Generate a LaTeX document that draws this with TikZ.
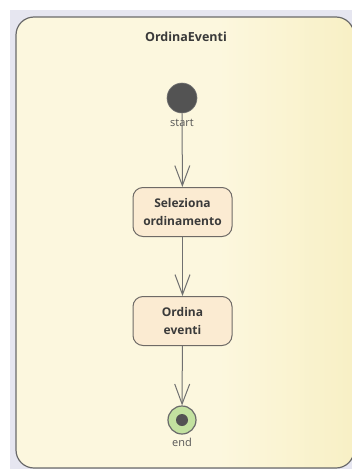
\documentclass[tikz,border=0pt]{standalone}
\usepackage{fontspec}
\setmainfont{Open Sans}
\usetikzlibrary{arrows.meta}

\definecolor{pagebg}{HTML}{E6E6F0}
\definecolor{frameL}{HTML}{FCF7DE}
\definecolor{frameR}{HTML}{F3E7A6}
\definecolor{frameline}{HTML}{6A6A6A}
\definecolor{actfill}{HTML}{FBEBD2}
\definecolor{actline}{HTML}{6E6A66}
\definecolor{flowline}{HTML}{707070}
\definecolor{dotfill}{HTML}{535353}
\definecolor{endring}{HTML}{C3E2A0}
\definecolor{txt}{HTML}{3A3A3A}
\definecolor{lbl}{HTML}{555555}

\pgfdeclarehorizontalshading{framefill}{100bp}{color(0bp)=(frameL); color(55bp)=(frameL); color(100bp)=(frameR)}

\tikzset{
  actbox/.style={draw=actline, fill=actfill, line width=1pt, rounded corners=10pt,
    minimum width=99pt, minimum height=49pt, align=center, text=txt,
    font=\fontsize{12}{18}\selectfont\bfseries, inner sep=0pt},
  startdot/.style={circle, fill=dotfill, draw=dotfill!80!white, line width=0.6pt,
    minimum size=30pt, inner sep=0pt},
  endring/.style={circle, fill=endring, draw=frameline, line width=1.2pt,
    minimum size=28pt, inner sep=0pt},
  enddot/.style={circle, fill=dotfill, minimum size=12pt, inner sep=0pt},
  statelabel/.style={text=lbl, font=\fontsize{11}{12}\selectfont, inner sep=0pt},
  flow/.style={draw=flowline, line width=1pt,
    -{Straight Barb[length=20pt, width=15pt, line width=1pt]}},
}

\begin{document}
\begin{tikzpicture}[x=1pt, y=-1pt]
  \useasboundingbox (0,0) rectangle (352,469);
  \clip (0,0) rectangle (352,469);
  % page background
  \fill[white] (0,0) rectangle (352,469);
  \fill[pagebg] (10,10) rectangle (352,469);
  % activity frame
  \path[shading=framefill, rounded corners=18pt] (16,17) rectangle (354,468);
  \draw[frameline, line width=1.2pt, rounded corners=18pt] (16,17) rectangle (354,468);
  \node[text=txt, font=\fontsize{12.5}{14}\selectfont\bfseries, inner sep=0pt] (title) at (186,37) {OrdinaEventi};

  % states and actions
  \node[startdot] (start) at (182,98) {};
  \node[statelabel] (startlbl) at (182,123) {start};
  \node[actbox] (sel) at (182.5,212) {Seleziona\\ordinamento};
  \node[actbox] (ord) at (182.5,321) {Ordina\\eventi};
  \node[endring] (end) at (182,420) {};
  \node[enddot] (enddot) at (end.center) {};
  \node[statelabel] (endlbl) at (182,442) {end};

  % control flows
  \draw[flow] (start) -- (sel);
  \draw[flow] (sel) -- (ord);
  \draw[flow] (ord) -- (end);
\end{tikzpicture}
\end{document}
